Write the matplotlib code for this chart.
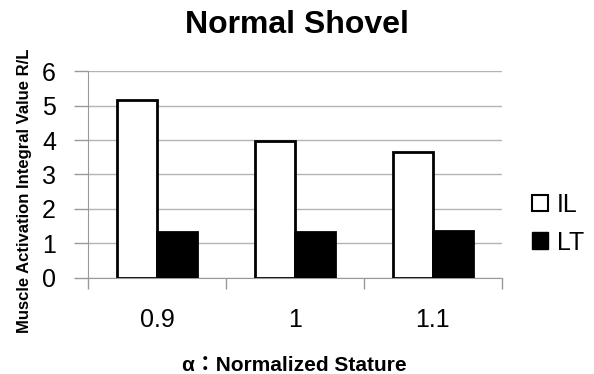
import numpy as np
import matplotlib.pyplot as plt
from matplotlib.patches import Patch

plt.rcParams['font.family'] = ['Liberation Sans', 'Noto Sans CJK JP', 'DejaVu Sans']

# data
categories = ["0.9", "1", "1.1"]
il_values = [5.16, 3.97, 3.64]
lt_values = [1.34, 1.33, 1.37]

fig = plt.figure(figsize=(5.94, 3.74), dpi=100)
ax = fig.add_axes([0.148, 0.257, 0.697, 0.553])

x = np.arange(len(categories))
w = 0.29
ax.bar(x - w/2, il_values, w, color="white", edgecolor="black", linewidth=2, label="IL", zorder=3)
ax.bar(x + w/2, lt_values, w, color="black", edgecolor="black", linewidth=2, label="LT", zorder=3)

ax.set_xlim(-0.5, len(categories) - 0.5)
ax.set_ylim(0, 6)
ax.set_yticks(range(0, 7))
ax.yaxis.grid(True, color="#b3b3b3", linewidth=1, zorder=0)

# category labels centred, tick marks between categories
ax.set_xticks(x)
ax.set_xticklabels(categories)
ax.set_xticks(np.arange(-0.5, len(categories)), minor=True)
ax.tick_params(axis="x", which="major", length=0, pad=22, labelsize=18)
ax.tick_params(axis="x", which="minor", length=8, color="#999999", width=1)
ax.tick_params(axis="y", length=10, color="#999999", width=1, labelsize=18, pad=13)

for s in ["top", "right"]:
    ax.spines[s].set_visible(False)
for s in ["left", "bottom"]:
    ax.spines[s].set_color("#999999")

fig.text(0.5, 0.933, "Normal Shovel", ha="center", va="center", fontsize=23, fontweight="bold")
fig.text(0.042, 0.489, "Muscle Activation Integral Value R/L", rotation=90, ha="center", va="center",
         fontsize=12, fontweight="bold")
fig.text(0.495, 0.022, "α：Normalized Stature", ha="center", va="center", fontsize=15, fontweight="bold")

handles = [Patch(facecolor="white", edgecolor="black", linewidth=1.5, label="IL"),
           Patch(facecolor="black", edgecolor="black", label="LT")]
fig.legend(handles=handles, loc="center left", bbox_to_anchor=(0.895, 0.402), frameon=False,
           fontsize=18, handlelength=0.65, handleheight=0.65, handletextpad=0.35, labelspacing=0.55,
           borderpad=0, borderaxespad=0)

fig.savefig("out.png", dpi=100)
